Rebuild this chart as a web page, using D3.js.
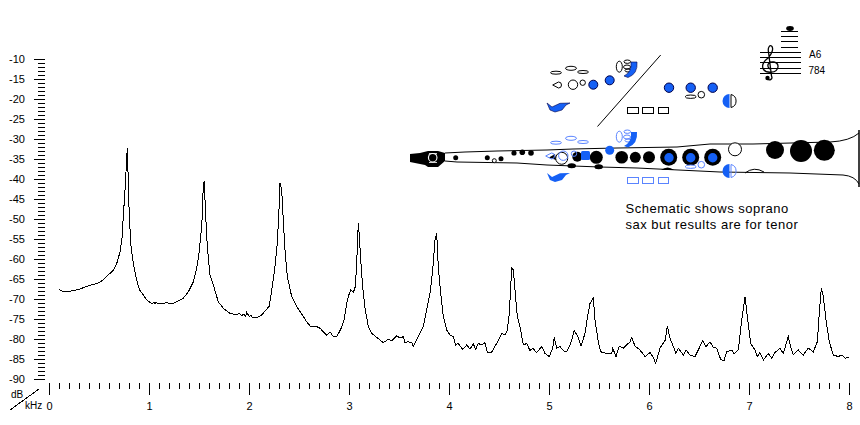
<!DOCTYPE html>
<html>
<head>
<meta charset="utf-8">
<script src="https://cdn.jsdelivr.net/npm/d3@7/dist/d3.min.js"></script>
<style>
html,body{margin:0;padding:0;background:#fff;overflow:hidden}
svg{display:block}
text{font-family:"Liberation Sans",Arial,sans-serif;fill:#000}
.tick line{stroke:#000;shape-rendering:crispEdges}
</style>
</head>
<body>
<svg id="c" width="860" height="425"></svg>
<script>
const dbTicks = [-10,-15,-20,-25,-30,-35,-40,-45,-50,-55,-60,-65,-70,-75,-80,-85,-90];
const khzTicks = [0,1,2,3,4,5,6,7,8];
const note = "A6";
const noteFreq = "784";
const caption = ["Schematic shows soprano","sax but results are for tenor"];
const khz = [
.103,.143,.177,.243,.31,.393,.493,.543,.593,.65,.683,.71,.73,.743,.76,.77,.783,.79,.80,.817,.843,.877,.903,.943,.977,
1.027,1.05,1.06,1.07,1.09,1.127,1.177,1.227,1.277,1.343,1.393,1.443,1.477,1.50,1.517,1.533,1.543,1.553,1.567,1.583,1.61,1.643,1.693,1.743,1.81,1.843,1.877,1.903,1.927,1.95,1.967,1.977,
2.003,2.02,2.033,2.077,2.127,2.203,2.227,2.26,2.283,2.303,2.31,2.327,2.343,2.36,2.383,2.427,2.477,2.527,2.577,2.617,2.677,2.71,
2.743,2.777,2.81,2.843,2.877,2.917,2.95,2.977,3.003,3.017,3.043,3.063,3.077,3.093,3.103,3.117,3.137,3.16,3.193,3.227,3.277,3.343,3.393,3.427,3.477,3.51,3.543,3.56,3.593,3.627,3.643,3.693,3.743,3.777,3.81,3.837,3.86,3.877,3.893,3.917,3.943,3.977,
4.01,4.043,4.067,4.093,4.137,4.177,4.21,4.243,4.267,4.293,4.327,4.36,4.383,4.427,4.477,4.527,4.56,4.583,4.603,4.627,4.643,4.66,4.683,4.71,4.743,4.777,4.81,4.837,4.877,4.927,4.96,
5.003,5.037,5.053,5.077,5.11,5.143,5.177,5.217,5.253,5.293,5.32,5.36,5.383,5.41,5.443,5.46,5.493,5.517,5.577,5.627,5.637,5.67,5.703,5.743,5.81,5.827,5.86,5.91,5.96,
6.01,6.043,6.067,6.11,6.15,6.163,6.183,6.21,6.237,6.27,6.293,6.343,6.37,6.41,6.46,6.493,6.537,6.57,6.61,6.643,6.677,6.717,6.75,6.777,6.827,6.85,6.893,6.927,6.96,6.987,
7.017,7.06,7.083,7.11,7.143,7.193,7.227,7.26,7.31,7.343,7.393,7.417,7.443,7.493,7.543,7.593,7.643,7.683,7.703,7.723,7.743,7.77,7.803,7.843,7.893,7.927,7.96,8.0];
const db = [
-67.6,-68.2,-68.25,-67.9,-67.5,-66.7,-66,-65.25,-64,-62.6,-60.7,-58.2,-54.8,-49.4,-42.75,-38.2,-32.3,-38.2,-46.9,-56.1,-61.1,-65.25,-67.6,-69,-70.25,
-71.1,-70.9,-71.3,-70.7,-71.2,-71.2,-70.9,-71.2,-70.7,-69.8,-68.2,-65.7,-62.3,-58.6,-54.4,-49.4,-41.1,-40.7,-49.4,-56.9,-64,-66.5,-70.7,-72.3,-73.6,-73.75,-74,-73.6,-74.2,-73.7,-74.4,-73.4,
-74.4,-74,-74.6,-74.7,-74,-71.75,-67.75,-61.9,-56.1,-46.1,-41.1,-42.75,-50.25,-57.75,-64.4,-69.4,-71.9,-73.75,-75.7,-76.9,-76.9,-77.3,
-78.2,-79,-78.2,-79.4,-79.4,-77.6,-75.25,-71.1,-68.6,-67.75,-68.4,-66.9,-61.1,-51.1,-54,-60.25,-66.9,-72.3,-76.9,-78.6,-79.6,-80.9,-80.1,-80.4,-79.2,-79.8,-79.4,-80.9,-80.7,-80.9,-81.9,-79.4,-76.9,-72.75,-68.6,-62.75,-55.25,-53.6,-61.9,-68.6,-74.4,-77.75,
-79,-79.4,-81.5,-81.1,-82.6,-81.5,-82.5,-81.25,-82.6,-81.1,-81.5,-80.9,-83.4,-83.25,-81.1,-78.6,-79,-77.75,-73.6,-62.3,-62.75,-67.75,-74.4,-76.9,-81.5,-81.1,-82.9,-82.3,-83.4,-81.9,-83.6,
-84.4,-82.3,-79.6,-82.3,-81.9,-82.9,-83.25,-81.1,-77.9,-79.6,-81.75,-78.6,-74.8,-71.1,-69.8,-75.25,-80.7,-83.2,-83.6,-83.6,-82.3,-84.4,-81.75,-82.3,-80.7,-79.7,-81.75,-82.75,-84.4,
-83.4,-84.6,-86.1,-82.3,-80.7,-80.25,-76.7,-79.8,-81.5,-83.6,-82.3,-84,-82.75,-84,-84.4,-82.75,-80.4,-81.9,-80.7,-82.1,-82.3,-85.1,-85.4,-83.2,-82.75,-83.75,-82.75,-75.25,-69.4,-75.25,
-81.1,-82.75,-84.4,-83.4,-85.25,-83.6,-84.8,-83.4,-82.3,-83.6,-79.4,-81.9,-84,-82.75,-84,-82.3,-83.2,-80.7,-73.6,-67.3,-69.4,-75.25,-80.7,-84,-84.4,-84,-84.8,-84.6];

const svg = d3.select("#c");
const x = d3.scaleLinear().domain([0,8]).range([49,849]);
const y = d3.scaleLinear().domain([-10,-90]).range([59,379]);

// axes
function clean(g){ g.select(".domain").remove(); }
svg.append("g").attr("transform","translate(45,0)")
  .call(d3.axisLeft(y).tickValues(d3.range(-10,-91,-1)).tickSize(7).tickFormat("")).call(clean);
svg.append("g").attr("transform","translate(45,0)")
  .call(d3.axisLeft(y).tickValues(dbTicks).tickSize(11).tickPadding(9).tickFormat(d=>String(d))).call(clean)
  .selectAll("text").attr("font-size",11).style("font-family",'"Liberation Sans",Arial,sans-serif');
svg.append("g").attr("transform","translate(0,383)")
  .call(d3.axisBottom(x).tickValues(d3.range(0,80).map(i=>i/10).concat(8)).tickSize(6).tickFormat("")).call(clean);
svg.append("g").attr("transform","translate(0,383)")
  .call(d3.axisBottom(x).tickValues(khzTicks).tickSize(12).tickPadding(7).tickFormat(d=>String(d))).call(clean)
  .selectAll("text").attr("font-size",11).style("font-family",'"Liberation Sans",Arial,sans-serif');

svg.append("text").attr("x",11).attr("y",398).attr("font-size",10).text("dB");
svg.append("text").attr("x",25).attr("y",409).attr("font-size",10).text("kHz");
svg.append("line").attr("x1",10).attr("y1",410).attr("x2",39).attr("y2",389)
  .attr("stroke","#000").attr("shape-rendering","crispEdges");

// spectrum
const pts = khz.map((k,i)=>[k,db[i]]);
svg.append("path").datum(pts)
  .attr("fill","none").attr("stroke","#000").attr("stroke-width",1)
  .attr("shape-rendering","crispEdges")
  .attr("d",d3.line().x(d=>x(d[0])).y(d=>y(d[1])));

// schematic
const BLUE="#1560f5", LIGHT="#5a84ff";
const s = svg.append("g");
const ln = d3.line();
function circ(cx,cy,r,fill,stroke){ return s.append("circle").attr("cx",cx).attr("cy",cy).attr("r",r)
  .attr("fill",fill).attr("stroke",stroke||"none").attr("stroke-width",stroke?1:0); }
function ell(cx,cy,rx,ry,fill,stroke){ return s.append("ellipse").attr("cx",cx).attr("cy",cy).attr("rx",rx).attr("ry",ry)
  .attr("fill",fill).attr("stroke",stroke||"none"); }
function rect(a,b,w,h,fill,stroke){ return s.append("rect").attr("x",a).attr("y",b).attr("width",w).attr("height",h)
  .attr("fill",fill).attr("stroke",stroke||"none"); }
function poly(p,fill,stroke,close){ return s.append("path").attr("d",ln(p)+(close?"Z":"")).attr("fill",fill).attr("stroke",stroke||"none"); }
function pth(d,fill,stroke,w){ return s.append("path").attr("d",d).attr("fill",fill).attr("stroke",stroke||"none").attr("stroke-width",w||1); }

// body outline
poly([[445,153],[465,152],[497,151],[547,150],[573,149],[617,148],[677,147],[710,144],[753,144],[830,142]],"none","#000");
pth("M830,142 Q850,141 859,133","none","#000");
poly([[445,161],[457,162],[517,163],[547,165],[600,167],[637,168],[720,172],[790,173],[843,175]],"none","#000");
pth("M843,175 Q855,176 859,184","none","#000");
s.append("line").attr("x1",859).attr("y1",130).attr("x2",859).attr("y2",187).attr("stroke","#000").attr("stroke-width",1.5);

// mouthpiece
poly([[410,154],[420,153],[428,151],[438,151],[445,153],[445,161],[438,167],[428,167],[425,165],[410,162]],"#000",null,true);
circ(432.7,157.7,4.8,"#fff");
circ(432.7,157.7,3.7,"#000");
rect(429,153,8,.8,"#fff"); rect(429,162,8,.8,"#fff");

// black keys on the body
[[455.7,157.7,2.5],[487.3,157.7,2.5],[501,158.7,2.5],[514,153,2.6],[522.3,152.3,2.8],[531,153,2.8],
 [577.3,156.7,5],[596.3,157.3,6.5],[621.7,157.3,6.3],[635.3,157.3,5.5],[649,157.3,6],
 [668.7,157.3,8.5],[690.7,157.3,8.5],[712.7,157.3,8.5],[775,150,9],[801,151,11],[824.3,150.3,10.5]]
 .forEach(d=>circ(d[0],d[1],d[2],"#000"));
circ(494.3,160.7,2,"#fff","#000");
ell(571.7,165.7,4.3,2.5,"#000"); ell(598.7,166.7,4.3,2.5,"#000");
pth("M661,170 Q667.7,165 674,170Z","#000");
circ(735,149.3,6.5,"#fff","#000");
pth("M745,173 Q754,166 764,172","none","#000");
circ(561.7,158.3,6,"#fff","#000");
poly([[549,157.5],[555,154],[556,160]],"#000",null,true);

// key groups: upper (black outline) and lower (light-blue outline)
function shift(d,dy){ return d.replace(/(\d+\.?\d*),(\d+\.?\d*)/g,(m,a,b)=>a+","+(+b+dy)); }
function cluster(dy,o,lower){
  ell(556,72.7+dy,5.5,1.5,"none",o); ell(571,68.3+dy,5.5,2,"none",o); ell(583,72+dy,5.5,1.5,"none",o);
  const ox=lower?-7:0, oy=lower?1:0;
  pth(`M${552.7+ox},${85+dy+oy} L${558.5+ox},${82+dy+oy} A3,3 0 1 1 ${558.5+ox},${88+dy+oy} Z`,"none",o);
  circ(573+(lower?-9.7:0),84.7+dy+oy,4.7,"none",o);
  circ(582.7+(lower?-8.7:0),82.7+dy+oy,2.7,"none",o);
  ell(619.3,66.7+dy,3,5.5,"none",o); ell(627.3,61.7+dy,3.3,1.7,"none",o); ell(627,67+dy,3.5,2,"none",o); ell(628,70.5+dy,3,1.5,"none",o);
  pth(shift("M631,62 L637,62 Q638,74 628,77.5 L624,76 Q632,72 631,62Z",dy),BLUE,lower?null:"#00004a",.6);
  pth(shift("M547,103 L552,107 L560,103.3 L570,103 L566,105 L562,110 L555,112 L550,110Z",dy),BLUE,lower?null:"#00004a",.6);
  [[669,87.7],[690.7,87.7],[712.7,87.7]].forEach(d=>{ if(!lower) circ(d[0],d[1]+dy,4.7,BLUE,"#00004a"); else circ(d[0],d[1]+dy,4.7,BLUE); });
  circ(701.3,94.7+dy,3.3,"#fff",o);
  ell(690.7,96.7+dy,5.5,1.7,"#fff",o);
  rect(627.5,107.5+dy,11,6,"none",o); rect(642.5,107.5+dy,11,6,"none",o); rect(658.5,107.5+dy,10,6,"none",o);
  pth(`M729.5,${94+dy} A7,7 0 0 0 729.5,${108+dy} Z`,BLUE);
  pth(`M731,${94.5+dy} A6.7,6.7 0 0 1 731,${107.5+dy} Z`,"none",o);
}
cluster(0,"#000",false);
cluster(70,LIGHT,true);
circ(593.3,84.7,4.5,BLUE,"#00004a");
circ(609.7,80.3,4.5,BLUE,"#00004a");
circ(609.7,150.3,4.5,BLUE);
s.append("rect").attr("x",581).attr("y",151).attr("width",9).attr("height",9).attr("rx",1.5).attr("fill",BLUE);

s.append("line").attr("x1",597.5).attr("y1",126.5).attr("x2",660.7).attr("y2",55).attr("stroke","#000");

// staff
[52,57,62,68,73].forEach(v=>s.append("line").attr("x1",760).attr("x2",801).attr("y1",v+.5).attr("y2",v+.5).attr("stroke","#000"));
[31,36,41,47].forEach(v=>s.append("line").attr("x1",781).attr("x2",798).attr("y1",v+.5).attr("y2",v+.5).attr("stroke","#000"));
ell(790,28.5,3.8,2.4,"#000");
// treble clef
pth("M767,79 C770,81 773,79 771.5,76 L768.5,52 C767.5,47 770,45 771.5,46 C774,48 772,54 768,58 C763,62 761.5,66 763.5,69.5 C766.5,73.5 777,73.5 778,67 C778.5,61.5 770,60 768,64.5 C767.5,67 769,69 770.5,69","none","#000",1.3);
circ(767.5,78,2.2,"#000");
s.append("text").attr("x",809).attr("y",58).attr("font-size",10).text(note);
s.append("text").attr("x",808.5).attr("y",74).attr("font-size",10).text(noteFreq);

// caption
caption.forEach((t,i)=>s.append("text").attr("x",625.5).attr("y",213+i*16).attr("font-size",13).attr("letter-spacing",.5).text(t));
</script>
</body>
</html>
